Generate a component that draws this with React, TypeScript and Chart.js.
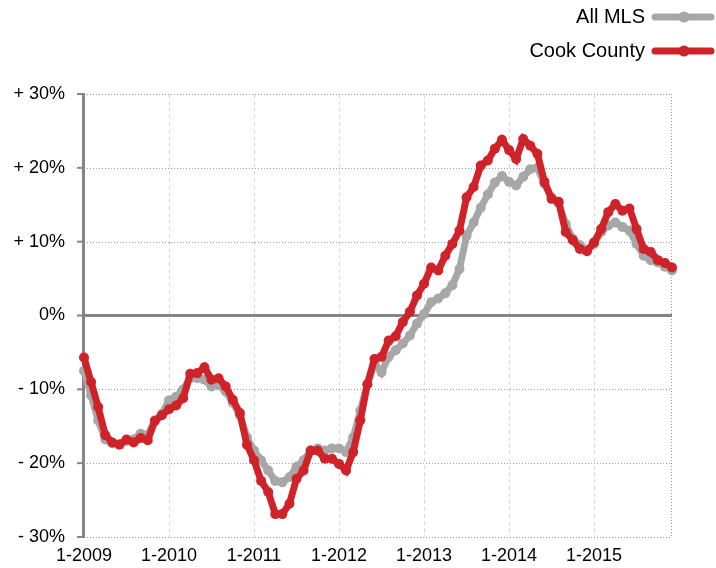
import React, { useEffect, useRef } from "react";
import { Chart, registerables } from "chart.js";

Chart.register(...registerables);

const years = ["2009", "2010", "2011", "2012", "2013", "2014", "2015"];
const months = ["1", "2", "3", "4", "5", "6", "7", "8", "9", "10", "11", "12"];
const categories: string[] = [];
years.forEach((y) => months.forEach((m) => categories.push(`${m}-${y}`)));

const allMLS = [
  -7.5, -10.8, -14.2, -16.8, -17.3, -17.4, -17.0, -16.8, -16.0, -16.2, -14.2, -13.3,
  -11.5, -11.0, -10.0, -8.5, -8.5, -8.7, -9.6, -9.4, -10.3, -11.8, -13.5, -16.5,
  -18.3, -19.6, -21.0, -22.4, -22.6, -21.9, -20.5, -19.6, -18.3, -18.0, -18.3, -18.0,
  -18.0, -18.5, -16.5, -12.9, -9.3, -6.5, -7.7, -5.6, -4.7, -3.8, -2.7, -1.1,
  0.2, 1.8, 2.3, 3.0, 4.1, 6.3, 10.8, 12.6, 14.6, 16.4, 18.0, 18.9,
  18.1, 17.6, 18.8, 19.8, 20.0, 17.8, 16.0, 15.2, 12.4, 10.4, 9.5, 8.9,
  9.7, 11.3, 12.2, 12.6, 12.0, 11.5, 9.7, 8.1, 7.5, 7.2, 6.6, 6.1,
];

const cookCounty = [
  -5.7, -9.0, -12.4, -16.2, -17.2, -17.5, -16.8, -17.2, -16.6, -16.9, -14.3, -13.5,
  -12.7, -12.2, -11.2, -7.9, -7.8, -7.0, -8.7, -8.5, -9.6, -11.4, -13.2, -17.5,
  -19.6, -22.4, -23.9, -26.9, -26.9, -25.5, -22.1, -21.0, -18.3, -18.3, -19.4, -19.4,
  -20.1, -21.0, -18.5, -14.2, -9.3, -5.9, -5.6, -3.4, -2.8, -0.9, 0.5, 2.7,
  4.3, 6.5, 6.1, 8.1, 9.7, 11.5, 16.0, 17.4, 20.3, 21.0, 22.6, 23.8,
  22.4, 21.2, 23.9, 23.0, 21.9, 18.1, 15.8, 15.4, 11.3, 10.2, 9.0, 8.7,
  9.9, 11.7, 14.0, 15.1, 14.2, 14.5, 11.7, 9.0, 8.6, 7.5, 7.1, 6.5,
];

const yTickValues = [30, 20, 10, 0, -10, -20, -30];
const yTickLabels = ["+ 30%", "+ 20%", "+ 10%", "0%", "- 10%", "- 20%", "- 30%"];

const seriesNames = ["All MLS", "Cook County"];
const GRAY = "#a7a7a7";
const RED = "#cf2229";
const FONT = "'Liberation Sans', Arial, Helvetica, sans-serif";

const gridPlugin = {
  id: "customGrid",
  beforeDatasetsDraw(chart: any) {
    const { ctx, chartArea, scales } = chart;
    const x = scales.x;
    const y = scales.y;
    ctx.save();
    ctx.strokeStyle = "#d9d9d9";
    ctx.lineWidth = 1;
    ctx.setLineDash([4, 3]);
    categories.forEach((c, i) => {
      if (c.startsWith("1-") && i > 0) {
        const px = Math.round(x.getPixelForValue(i)) + 0.5;
        ctx.beginPath();
        ctx.moveTo(px, chartArea.top);
        ctx.lineTo(px, chartArea.bottom);
        ctx.stroke();
      }
    });
    ctx.strokeStyle = "#9a9a9a";
    ctx.setLineDash([1, 2]);
    const rx = Math.round(chartArea.right) - 0.5;
    ctx.beginPath();
    ctx.moveTo(rx, chartArea.top);
    ctx.lineTo(rx, chartArea.bottom);
    ctx.stroke();
    yTickValues.forEach((v) => {
      if (v === 0) return;
      const py = Math.round(y.getPixelForValue(v)) + 0.5;
      ctx.beginPath();
      ctx.moveTo(chartArea.left, py);
      ctx.lineTo(chartArea.right, py);
      ctx.stroke();
    });
    ctx.setLineDash([]);
    ctx.strokeStyle = "#858585";
    ctx.lineWidth = 3;
    const zy = y.getPixelForValue(0);
    ctx.beginPath();
    ctx.moveTo(chartArea.left, zy);
    ctx.lineTo(chartArea.right, zy);
    ctx.stroke();
    ctx.beginPath();
    ctx.moveTo(chartArea.left - 0.5, chartArea.top - 1);
    ctx.lineTo(chartArea.left - 0.5, chartArea.bottom + 1);
    ctx.stroke();
    ctx.lineWidth = 2;
    yTickValues.forEach((v) => {
      const py = y.getPixelForValue(v);
      ctx.beginPath();
      ctx.moveTo(chartArea.left - 7, py);
      ctx.lineTo(chartArea.left, py);
      ctx.stroke();
    });
    ctx.restore();
  },
};

const legendPlugin = {
  id: "customLegend",
  afterDraw(chart: any) {
    const { ctx } = chart;
    const items = [
      { name: seriesNames[0], color: GRAY, y: 17 },
      { name: seriesNames[1], color: RED, y: 51 },
    ];
    ctx.save();
    ctx.font = `20px ${FONT}`;
    ctx.textAlign = "right";
    ctx.textBaseline = "middle";
    items.forEach((it) => {
      ctx.fillStyle = "#000";
      ctx.fillText(it.name, 645, it.y);
      ctx.strokeStyle = it.color;
      ctx.lineWidth = 7;
      ctx.lineCap = "round";
      ctx.beginPath();
      ctx.moveTo(655, it.y);
      ctx.lineTo(711, it.y);
      ctx.stroke();
      ctx.fillStyle = it.color;
      ctx.beginPath();
      ctx.arc(684, it.y, 5.5, 0, Math.PI * 2);
      ctx.fill();
    });
    ctx.restore();
  },
};

export default function App() {
  const ref = useRef<HTMLCanvasElement | null>(null);
  useEffect(() => {
    if (!ref.current) return;
    const chart = new Chart(ref.current, {
      type: "line",
      data: {
        labels: categories,
        datasets: [
          {
            label: seriesNames[0],
            data: allMLS,
            borderColor: GRAY,
            backgroundColor: GRAY,
            borderWidth: 7,
            pointRadius: 5,
            pointBorderWidth: 0,
            pointBackgroundColor: GRAY,
            tension: 0,
            order: 2,
          },
          {
            label: seriesNames[1],
            data: cookCounty,
            borderColor: RED,
            backgroundColor: RED,
            borderWidth: 7,
            pointRadius: 5,
            pointBorderWidth: 0,
            pointBackgroundColor: RED,
            tension: 0,
            order: 1,
          },
        ],
      },
      options: {
        animation: false,
        responsive: false,
        maintainAspectRatio: false,
        layout: { padding: { top: 94, right: 44, left: 0, bottom: 0 } },
        plugins: {
          legend: { display: false },
          title: { display: false },
          tooltip: { enabled: false },
        },
        scales: {
          x: {
            type: "category",
            offset: false,
            grid: { display: false, drawTicks: false },
            border: { display: false },
            afterFit: (s: any) => {
              s.height = 31;
            },
            ticks: {
              autoSkip: false,
              maxRotation: 0,
              minRotation: 0,
              padding: 8,
              color: "#000",
              font: { family: FONT, size: 18 },
              callback: (_v: any, i: number) =>
                categories[i].startsWith("1-") ? categories[i] : "",
            },
          },
          y: {
            min: -30,
            max: 30,
            grid: { display: false, drawTicks: false },
            border: { display: false },
            afterFit: (s: any) => {
              s.width = 84;
            },
            afterBuildTicks: (s: any) => {
              s.ticks = yTickValues.map((v) => ({ value: v }));
            },
            ticks: {
              padding: 19,
              color: "#000",
              font: { family: FONT, size: 18 },
              callback: (v: any) => {
                const idx = yTickValues.indexOf(Number(v));
                return idx >= 0 ? yTickLabels[idx] : "";
              },
            },
          },
        },
      },
      plugins: [gridPlugin, legendPlugin],
    } as any);
    return () => chart.destroy();
  }, []);
  return (
    <div style={{ position: "absolute", left: 0, top: 0, width: 716, height: 568, background: "#fff" }}>
      <canvas ref={ref} width={716} height={568} style={{ width: 716, height: 568, display: "block" }} />
    </div>
  );
}
